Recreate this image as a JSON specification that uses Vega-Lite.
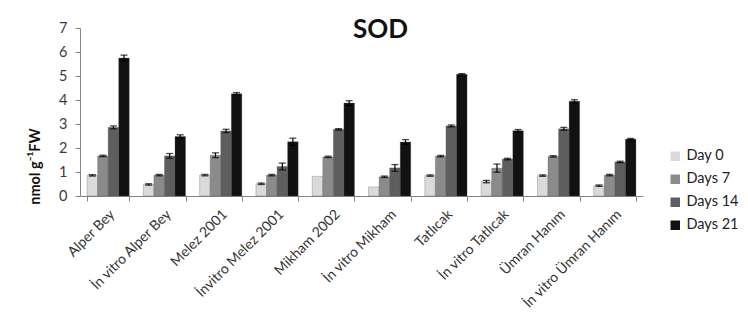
{
  "$schema": "https://vega.github.io/schema/vega-lite/v6.json",
  "autosize": {"type": "none"},
  "padding": {"left": 80, "top": 28, "right": 105, "bottom": 134},
  "width": 563,
  "height": 168,
  "background": "white",
  "config": {"view": {"stroke": null}, "font": "Lato"},
  "title": {"text": "SOD", "fontSize": 26, "fontWeight": "bold", "font": "Lato", "color": "#111", "anchor": "middle", "dx": 19, "dy": 23, "offset": 0},
  "resolve": {"axis": {"y": "independent"}},
  "data": {"values": [
    {"cultivar": "Alper Bey", "day": "Day 0", "value": 0.86, "err": 0.03},
    {"cultivar": "Alper Bey", "day": "Days 7", "value": 1.67, "err": 0.03},
    {"cultivar": "Alper Bey", "day": "Days 14", "value": 2.86, "err": 0.06},
    {"cultivar": "Alper Bey", "day": "Days 21", "value": 5.75, "err": 0.12},
    {"cultivar": "İn vitro Alper Bey", "day": "Day 0", "value": 0.48, "err": 0.03},
    {"cultivar": "İn vitro Alper Bey", "day": "Days 7", "value": 0.87, "err": 0.03},
    {"cultivar": "İn vitro Alper Bey", "day": "Days 14", "value": 1.67, "err": 0.1},
    {"cultivar": "İn vitro Alper Bey", "day": "Days 21", "value": 2.48, "err": 0.07},
    {"cultivar": "Melez 2001", "day": "Day 0", "value": 0.87, "err": 0.03},
    {"cultivar": "Melez 2001", "day": "Days 7", "value": 1.7, "err": 0.1},
    {"cultivar": "Melez 2001", "day": "Days 14", "value": 2.71, "err": 0.07},
    {"cultivar": "Melez 2001", "day": "Days 21", "value": 4.26, "err": 0.05},
    {"cultivar": "İnvitro Melez 2001", "day": "Day 0", "value": 0.51, "err": 0.03},
    {"cultivar": "İnvitro Melez 2001", "day": "Days 7", "value": 0.87, "err": 0.03},
    {"cultivar": "İnvitro Melez 2001", "day": "Days 14", "value": 1.23, "err": 0.14},
    {"cultivar": "İnvitro Melez 2001", "day": "Days 21", "value": 2.26, "err": 0.15},
    {"cultivar": "Mikham 2002", "day": "Day 0", "value": 0.82, "err": 0},
    {"cultivar": "Mikham 2002", "day": "Days 7", "value": 1.63, "err": 0.03},
    {"cultivar": "Mikham 2002", "day": "Days 14", "value": 2.78, "err": 0.03},
    {"cultivar": "Mikham 2002", "day": "Days 21", "value": 3.87, "err": 0.1},
    {"cultivar": "İn vitro Mikham", "day": "Day 0", "value": 0.38, "err": 0},
    {"cultivar": "İn vitro Mikham", "day": "Days 7", "value": 0.8, "err": 0.03},
    {"cultivar": "İn vitro Mikham", "day": "Days 14", "value": 1.17, "err": 0.14},
    {"cultivar": "İn vitro Mikham", "day": "Days 21", "value": 2.25, "err": 0.1},
    {"cultivar": "Tatlıcak", "day": "Day 0", "value": 0.85, "err": 0.03},
    {"cultivar": "Tatlıcak", "day": "Days 7", "value": 1.66, "err": 0.03},
    {"cultivar": "Tatlıcak", "day": "Days 14", "value": 2.92, "err": 0.04},
    {"cultivar": "Tatlıcak", "day": "Days 21", "value": 5.07, "err": 0.03},
    {"cultivar": "İn vitro Tatlıcak", "day": "Day 0", "value": 0.6, "err": 0.05},
    {"cultivar": "İn vitro Tatlıcak", "day": "Days 7", "value": 1.16, "err": 0.17},
    {"cultivar": "İn vitro Tatlıcak", "day": "Days 14", "value": 1.54, "err": 0.03},
    {"cultivar": "İn vitro Tatlıcak", "day": "Days 21", "value": 2.72, "err": 0.05},
    {"cultivar": "Ümran Hanım", "day": "Day 0", "value": 0.85, "err": 0.03},
    {"cultivar": "Ümran Hanım", "day": "Days 7", "value": 1.65, "err": 0.03},
    {"cultivar": "Ümran Hanım", "day": "Days 14", "value": 2.8, "err": 0.06},
    {"cultivar": "Ümran Hanım", "day": "Days 21", "value": 3.95, "err": 0.06},
    {"cultivar": "İn vitro Ümran Hanım", "day": "Day 0", "value": 0.43, "err": 0.03},
    {"cultivar": "İn vitro Ümran Hanım", "day": "Days 7", "value": 0.87, "err": 0.03},
    {"cultivar": "İn vitro Ümran Hanım", "day": "Days 14", "value": 1.42, "err": 0.03},
    {"cultivar": "İn vitro Ümran Hanım", "day": "Days 21", "value": 2.37, "err": 0.03}
  ]},
  "encoding": {
    "x": {"field": "cultivar", "type": "nominal", "sort": null,
      "scale": {"paddingInner": 0.25, "paddingOuter": 0.125},
      "axis": {"title": null, "labelAngle": -45, "labelAlign": "right", "labelBaseline": "middle", "labelFontSize": 14, "labelColor": "#333333", "labelFont": "Lato", "labelPadding": 11,
        "tickBand": "extent", "tickSize": 5, "tickColor": "#868686", "domainColor": "#868686", "labelOffset": 4, "labelOverlap": false, "labelBound": false}},
    "xOffset": {"field": "day", "type": "nominal", "sort": ["Day 0", "Days 7", "Days 14", "Days 21"], "scale": {"paddingInner": 0, "paddingOuter": 0}}
  },
  "layer": [
    {
      "mark": {"type": "bar", "stroke": "#555", "strokeWidth": 0.3},
      "encoding": {
        "y": {"field": "value", "type": "quantitative",
          "scale": {"domain": [0, 7], "nice": false},
          "axis": {"title": "nmol g⁻¹FW", "titleFontSize": 14.5, "titleFont": "Lato", "titleFontWeight": "bold", "titleColor": "#111", "titleX": -45, "titleY": 138, "titleAngle": -90, "titleAlign": "center", "titleBaseline": "middle",
            "values": [0, 1, 2, 3, 4, 5, 6, 7], "labelOverlap": false, "grid": false, "labelFontSize": 14.5, "labelColor": "#3a3a3a", "labelFont": "Lato",
            "tickSize": 5, "tickColor": "#868686", "domainColor": "#868686", "labelPadding": 8}},
        "color": {"field": "day", "type": "nominal", "sort": ["Day 0", "Days 7", "Days 14", "Days 21"],
          "scale": {"domain": ["Day 0", "Days 7", "Days 14", "Days 21"], "range": ["#dadada", "#8b8b8b", "#5e5e5e", "#111111"]},
          "legend": {"title": null, "orient": "none", "legendX": 588, "legendY": 121, "symbolType": "square", "symbolSize": 90, "symbolStrokeWidth": 0, "labelFontSize": 14.5, "labelFont": "Lato", "labelColor": "#222", "rowPadding": 8, "labelOffset": 4}}
      }
    },
    {
      "transform": [{"filter": "datum.err > 0"}],
      "mark": {"type": "errorbar", "ticks": {"size": 7, "color": "black", "thickness": 1.3}, "color": "black", "thickness": 1.2},
      "encoding": {
        "y": {"field": "value", "type": "quantitative", "axis": null},
        "yError": {"field": "err"}
      }
    }
  ]
}
